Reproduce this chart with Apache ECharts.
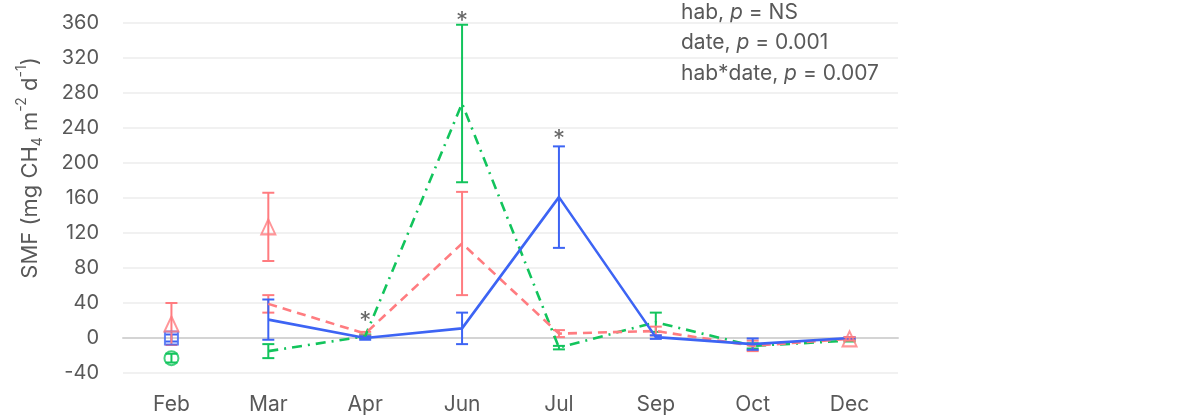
<!DOCTYPE html>
<html><head><meta charset="utf-8">
<script src="https://cdn.jsdelivr.net/npm/echarts@6/dist/echarts.min.js"></script>
<style>html,body{margin:0;padding:0;background:#fff}#c{width:1185px;height:415px}</style>
</head><body><div id="c"></div>
<script>
// ---- data ----
const categories = ['Feb','Mar','Apr','Jun','Jul','Sep','Oct','Dec'];
const yTicks = [-40, 360, 40]; // min, max, interval

// line series (Mar–Dec)
const blueLine  = [null, 21, 0, 11, 161, 1, -7, 0];
const blueErr   = [null, 23, 2, 18, 58, 2, 6.5, 1];
const redLine   = [null, 39, 5, 108, 5, 8, -9, -1];
const redErr    = [null, 10, 2, 59, 4, 5, 6, 1];
const greenLine = [null, -15, 2, 268, -11, 18, -9, -3];
const greenErr  = [null, 8, 2, 90, 2, 11, 3, 1];

// marker-only points
const blueMark  = [0, null, null, null, null, null, null, null];
const blueMarkErr = [4, null, null, null, null, null, null, null];
const redMark   = [16, 127, null, null, null, null, null, -1];
const redMarkErr = [24, 39, null, null, null, null, null, 2];
const greenMark = [-23, null, null, null, null, null, null, null];
const greenMarkErr = [5, null, null, null, null, null, null, null];

// significance stars
const starCats = ['Apr', 'Jun', 'Jul'];
const starVals = [19, 361, 226];

const statLines = [['hab, ', 'NS'], ['date, ', '0.001'], ['hab*date, ', '0.007']];
const axisName = ['SMF (mg CH', '4', ' m', '-2', ' d', '-1', ')'];

// ---- styles ----
const BLUE = '#3d64f4', RED = '#ff7c80', GREEN = '#12c45c', TXT = '#595959';
const FONT = 'Inter';

function toPairs(vals) {
  const out = [];
  vals.forEach((v, i) => { if (v != null) out.push([i, v]); });
  return out;
}
function errSeries(vals, errs, color, z) {
  const data = [];
  vals.forEach((v, i) => { if (v != null && errs[i] != null) data.push([i, v - errs[i], v + errs[i]]); });
  return {
    type: 'custom', data, z, silent: true,
    encode: { x: 0, y: [1, 2] },
    renderItem(params, api) {
      const x = api.value(0);
      const lo = api.coord([x, api.value(1)]);
      const hi = api.coord([x, api.value(2)]);
      const w = 6;
      const st = { stroke: color, lineWidth: 2 };
      return { type: 'group', children: [
        { type: 'line', shape: { x1: lo[0], y1: lo[1], x2: hi[0], y2: hi[1] }, style: st },
        { type: 'line', shape: { x1: lo[0] - w, y1: lo[1], x2: lo[0] + w, y2: lo[1] }, style: st },
        { type: 'line', shape: { x1: hi[0] - w, y1: hi[1], x2: hi[0] + w, y2: hi[1] }, style: st }
      ]};
    }
  };
}
function lineSeries(vals, color, type, z) {
  return { type: 'line', data: vals, z, symbol: 'none', silent: true,
    lineStyle: { color, width: 2.6, type }, connectNulls: false, animation: false };
}
function markSeries(vals, color, symbol, size, z) {
  return { type: 'scatter', data: toPairs(vals), z, symbol, symbolSize: size, silent: true,
    itemStyle: { color: 'rgba(255,255,255,0)', borderColor: color, borderWidth: 2 } };
}

const chart = echarts.init(document.getElementById('c'), null, { renderer: 'canvas' });
chart.setOption({
  animation: false,
  backgroundColor: '#fff',
  textStyle: { fontFamily: FONT },
  grid: { left: 123, right: 287, top: 23, bottom: 41, containLabel: false },
  xAxis: {
    type: 'category', data: categories, boundaryGap: true,
    axisLine: { onZero: true, lineStyle: { color: '#d4d4d4', width: 2 } },
    axisTick: { show: false },
    axisLabel: { color: TXT, fontSize: 21, fontFamily: FONT, margin: 21 }
  },
  yAxis: {
    type: 'value', min: yTicks[0], max: yTicks[1], interval: yTicks[2],
    axisLine: { show: false }, axisTick: { show: false },
    splitLine: { lineStyle: { color: '#ececec', width: 1.5 } },
    axisLabel: { color: TXT, fontSize: 20, fontFamily: FONT, margin: 24 }
  },
  series: [
    errSeries(greenLine, greenErr, GREEN, 2),
    errSeries(redLine, redErr, RED, 2),
    errSeries(blueLine, blueErr, BLUE, 2),
    lineSeries(greenLine, GREEN, [10, 6, 2, 6], 3),
    lineSeries(redLine, RED, [9, 6], 4),
    lineSeries(blueLine, BLUE, 'solid', 5),
    errSeries(greenMark, greenMarkErr, GREEN, 6),
    errSeries(blueMark, blueMarkErr, BLUE, 6),
    errSeries(redMark, redMarkErr, RED, 6),
    markSeries(greenMark, GREEN, 'circle', 14, 7),
    markSeries(blueMark, BLUE, 'rect', 13, 7),
    markSeries(redMark, RED, 'triangle', [14, 15], 8),
    { type: 'scatter', clip: false, silent: true, z: 9, symbolSize: 1,
      itemStyle: { color: 'rgba(0,0,0,0)' },
      data: starCats.map((c, i) => [categories.indexOf(c), starVals[i]]),
      label: { show: true, position: 'inside', formatter: '*', color: '#404040',
               fontSize: 24, fontFamily: FONT } }
  ],
  graphic: [
    { type: 'text', left: 681, top: 2, silent: true,
      style: {
        text: statLines.map(l => '{a|' + l[0] + '}{i|p}{a| = ' + l[1] + '}').join('\n'),
        rich: {
          a: { fontSize: 21, fontFamily: FONT, fill: TXT, lineHeight: 30.5 },
          i: { fontSize: 21, fontFamily: FONT, fill: TXT, fontStyle: 'italic', lineHeight: 30.5 }
        }
      } },
    { type: 'text', x: 30, y: 168, rotation: Math.PI / 2, silent: true,
      style: {
        text: '{n|' + axisName[0] + '}{sub|' + axisName[1] + '}{n|' + axisName[2] + '}{sup|' + axisName[3] +
              '}{n|' + axisName[4] + '}{sup|' + axisName[5] + '}{n|' + axisName[6] + '}',
        align: 'center', verticalAlign: 'middle',
        rich: {
          n: { fontSize: 22, fontFamily: FONT, fill: TXT, lineHeight: 30 },
          sub: { fontSize: 14, fontFamily: FONT, fill: TXT, verticalAlign: 'bottom', lineHeight: 30 },
          sup: { fontSize: 14, fontFamily: FONT, fill: TXT, verticalAlign: 'top', lineHeight: 30 }
        }
      } }
  ]
});
</script>
</body></html>
